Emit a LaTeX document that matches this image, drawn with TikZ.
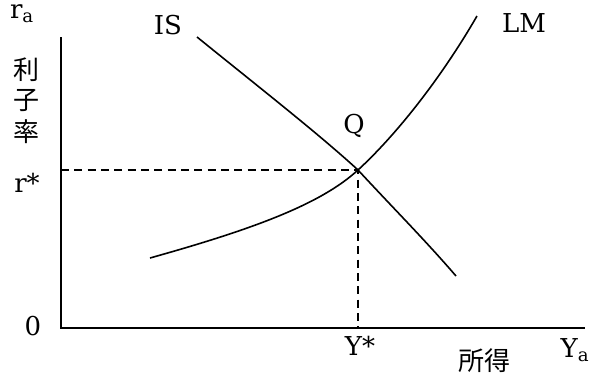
\documentclass[tikz,border=0pt]{standalone}
\usepackage{fontspec}
\setmainfont{DejaVu Serif}
\newfontfamily\jpfont{Noto Sans CJK JP}
\begin{document}
\begin{tikzpicture}[x=0.75pt,y=-0.75pt,
  axis/.style={line width=1.2pt},
  curve/.style={line width=1.2pt},
  guide/.style={line width=0.9pt,dash pattern=on 6pt off 4pt},
  lbl/.style={font=\fontsize{19.5}{22}\selectfont,inner sep=0pt},
  jlbl/.style={font=\fontsize{19.5}{22}\selectfont\jpfont,inner sep=0pt}]
\useasboundingbox (0,0) rectangle (594,379);
\coordinate (O) at (61,328);
\coordinate (ytop) at (61,37);
\coordinate (xend) at (585,328);
\coordinate (Q) at (358,170);
\coordinate (ry) at (61,170);
\coordinate (yx) at (358,328);
\coordinate (is1) at (197,37);
\coordinate (is2) at (456,276);
\coordinate (lm1) at (150,258);
\coordinate (lm2) at (477,16);
\draw[axis] (ytop) -- (O) -- (xend);
\draw[guide] (ry) -- (Q) -- (yx);
\draw[curve] (is1) .. controls (260,88) and (320,135) .. (Q)
  .. controls (395,210) and (425,240) .. (is2);
\draw[curve] (lm1) .. controls (250,230) and (320,205) .. (Q)
  .. controls (395,136) and (440,80) .. (lm2);
\node[lbl] (ra) at (22,14) {r\textsubscript{a}};
\node[jlbl] (j1) at (26,70) {利};
\node[jlbl] (j2) at (26,101) {子};
\node[jlbl] (j3) at (26,132) {率};
\node[lbl] (rs) at (27,183) {r*};
\node[lbl] (zero) at (33,326) {0};
\node[lbl] (ys) at (360,346) {Y*};
\node[jlbl] (jy) at (484,361) {所得};
\node[lbl] (ya) at (575,350) {Y\textsubscript{a}};
\node[lbl] (is) at (168,25) {IS};
\node[lbl] (lm) at (524,23) {LM};
\node[lbl] (q) at (354,126) {Q};
\end{tikzpicture}
\end{document}
